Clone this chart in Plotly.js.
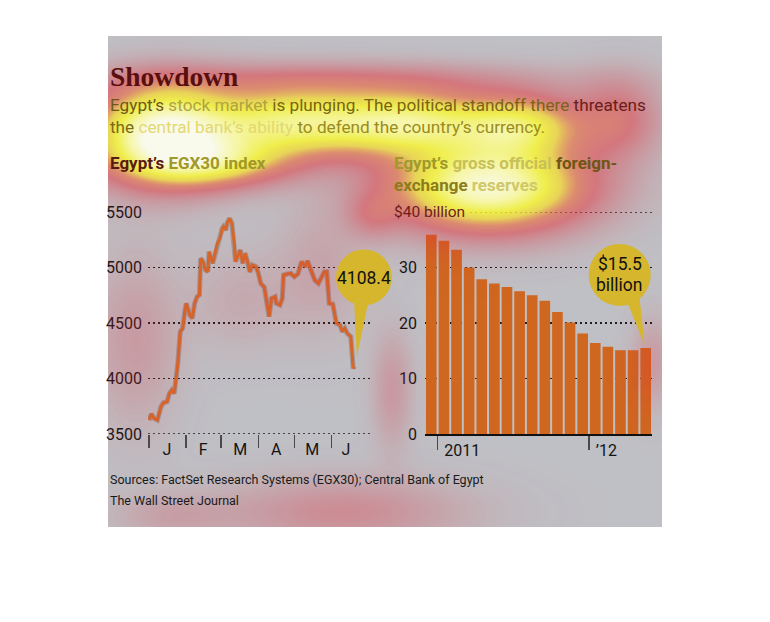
<!DOCTYPE html>
<html><head><meta charset="utf-8">
<script src="https://cdn.plot.ly/plotly-3.0.1.min.js"></script>
<style>html,body{margin:0;padding:0;background:#fff}#chart{width:770px;height:622px}</style>
</head><body><div id="chart"></div>
<script>
// ---------- data ----------
const egxDates = ['2012-01-01','2012-01-03','2012-01-05','2012-01-08','2012-01-11','2012-01-13','2012-01-16','2012-01-18','2012-01-20','2012-01-22','2012-01-24','2012-01-25','2012-01-27','2012-01-29','2012-01-31',
'2012-02-01','2012-02-04','2012-02-06','2012-02-08','2012-02-10','2012-02-12','2012-02-13','2012-02-15','2012-02-17','2012-02-19','2012-02-20','2012-02-23','2012-02-25','2012-02-27','2012-02-29',
'2012-03-02','2012-03-03','2012-03-05','2012-03-06','2012-03-08','2012-03-10','2012-03-12','2012-03-13','2012-03-15','2012-03-17','2012-03-19','2012-03-21','2012-03-23','2012-03-25','2012-03-27','2012-03-30',
'2012-04-01','2012-04-03','2012-04-06','2012-04-08','2012-04-10','2012-04-12','2012-04-15','2012-04-16','2012-04-19','2012-04-21','2012-04-22','2012-04-25','2012-04-28',
'2012-05-01','2012-05-04','2012-05-07','2012-05-10','2012-05-12','2012-05-15','2012-05-18','2012-05-21','2012-05-23','2012-05-26','2012-05-28','2012-05-30',
'2012-06-02','2012-06-05','2012-06-08','2012-06-10','2012-06-12','2012-06-14','2012-06-17','2012-06-19','2012-06-20'];
const egxValues = [3626,3680,3644,3626,3746,3782,3791,3866,3896,3866,4047,4137,4422,4452,4617,
4677,4572,4542,4677,4737,4752,5083,5053,4978,4962,5142,5038,5128,5218,5263,
5353,5368,5338,5398,5443,5398,5218,5053,5113,5158,5038,5128,5053,4960,5023,5008,
4950,4857,4822,4677,4557,4722,4737,4677,4662,4722,4932,4941,4947,
4917,4941,5053,5008,5059,4977,4887,4857,4903,4962,4962,4677,
4671,4497,4482,4422,4452,4407,4377,4092,4108.4];
const egxTickValues = [3500,4000,4500,5000,5500];
const monthStarts = ['2012-01-01','2012-02-01','2012-03-01','2012-04-01','2012-05-01','2012-06-01'];
const monthLabelDates = ['2012-01-16','2012-02-15','2012-03-17','2012-04-16','2012-05-16','2012-06-13'];
const monthTickLabels = ['J','F','M','A','M','J'];

const reserveMonths = ['2010-12','2011-01','2011-02','2011-03','2011-04','2011-05','2011-06','2011-07','2011-08','2011-09','2011-10','2011-11','2011-12','2012-01','2012-02','2012-03','2012-04','2012-05'];
const reserveValues = [35.9,34.8,33.2,30.0,27.9,27.1,26.5,25.7,25.0,24.0,22.0,20.1,18.1,16.4,15.7,15.1,15.1,15.5];
const reserveTickValues = [0,10,20,30];
const reserveYearStarts = ['2011-01','2012-01'];
const reserveYearLabels = ['2011','\u201912'];

// ---------- helpers ----------
const W = 770, H = 622;
const PX = v => v / W, PY = v => 1 - v / H;
const SANS = 'Roboto, "Liberation Sans", sans-serif';
const SERIF = '"Liberation Serif", "DejaVu Serif", serif';
const lastI = egxValues.length - 1;
const barIdx = reserveMonths.map((m, i) => i);
const lastB = reserveValues.length - 1;
const BUBBLE = '#d5b62c';
const GRIDC = '#1e1e1e';

// attention-heat overlay (decoration)
const heatSpots = [
  [162,134,48,32,1.15],[290,122,60,23,0.8],[410,122,55,22,0.78],[520,125,42,21,0.66],
  [488,186,66,30,1.08],[220,162,52,17,0.52],[330,80,150,13,0.22],[618,118,30,28,0.3],
  [135,340,30,60,0.14],[320,270,30,45,0.1],[240,300,35,35,0.08],[340,512,85,24,0.2],[170,515,40,15,0.1],
  [392,390,14,40,0.15],[652,362,15,30,0.14],[372,215,18,16,0.18]
];
const rampStops = [[0,230,40,50,0],[0.10,228,40,55,0.18],[0.30,232,45,55,0.5],[0.45,240,100,50,0.58],[0.60,250,220,40,0.7],[0.75,252,250,40,0.78],[0.95,255,255,160,0.85],[1.15,255,255,240,0.9]];
function ramp(I){
  if (I <= 0) return rampStops[0].slice(1);
  for (let i = 1; i < rampStops.length; i++) {
    const b = rampStops[i];
    if (I <= b[0]) { const a = rampStops[i-1]; const t = (I - a[0]) / (b[0] - a[0]);
      return [a[1]+(b[1]-a[1])*t, a[2]+(b[2]-a[2])*t, a[3]+(b[3]-a[3])*t, a[4]+(b[4]-a[4])*t]; }
  }
  return rampStops[rampStops.length-1].slice(1);
}
function buildOverlay(){
  const ox = 108, oy = 36, w = 554, h = 491;
  const cv = document.createElement('canvas'); cv.width = w; cv.height = h;
  const ctx = cv.getContext('2d'); const im = ctx.createImageData(w, h); const d = im.data;
  for (let y = 0; y < h; y++) for (let x = 0; x < w; x++) {
    const px = x + ox, py = y + oy; let I = 0;
    for (const s of heatSpots) { const dx = (px - s[0]) / s[2], dy = (py - s[1]) / s[3]; const e = (dx*dx + dy*dy) / 2; if (e < 12) I += s[4] * Math.exp(-e); }
    const c = ramp(I); const k = (y * w + x) * 4;
    d[k] = c[0]; d[k+1] = c[1]; d[k+2] = c[2]; d[k+3] = Math.round(c[3] * 255);
  }
  ctx.putImageData(im, 0, 0); return cv.toDataURL('image/png');
}

// ---------- traces ----------
const traces = [
  {type:'scatter', mode:'lines', x:egxDates, y:egxValues, xaxis:'x', yaxis:'y', cliponaxis:false,
   line:{color:'rgba(70,45,30,0.25)', width:5}, hoverinfo:'skip'},
  {type:'scatter', mode:'lines', x:egxDates, y:egxValues, xaxis:'x', yaxis:'y', cliponaxis:false,
   line:{color:'#d6692a', width:3}},
  {type:'bar', x:barIdx, y:reserveValues, xaxis:'x2', yaxis:'y2', width:0.845,
   marker:{color:'#cf6721', line:{width:0}}}
];

const tickFont = {family:SANS, size:16, color:'#141414'};
const gridStyle = {showgrid:true, gridcolor:GRIDC, gridwidth:1.5, griddash:'2px,3px'};

function ann(x, y, text, size, opts){
  return Object.assign({xref:'paper', yref:'paper', x:PX(x), y:PY(y), xanchor:'left', yanchor:'middle',
    showarrow:false, text:text, font:{family:SANS, size:size, color:'#1a1a1a'}}, opts || {});
}
const sp = (c, t) => '<span style="color:' + c + '">' + t + '</span>';
const boldFont = {family:SANS, size:17, weight:'bold'};

const layout = {
  width:W, height:H, margin:{l:0,r:0,t:0,b:0}, paper_bgcolor:'#ffffff', plot_bgcolor:'rgba(0,0,0,0)',
  showlegend:false,
  xaxis:{type:'date', domain:[PX(148), PX(370)], range:['2011-12-31 04:00','2012-07-03'],
    tickmode:'array', tickvals:monthLabelDates, ticktext:monthTickLabels, ticks:'', showgrid:false,
    zeroline:false, showline:false, tickfont:tickFont, ticklabelstandoff:4,
    minor:{tickmode:'array', tickvals:monthStarts, ticks:'outside', ticklen:13, tickwidth:1.5, tickcolor:'#4a4a4a', showgrid:false}},
  yaxis:Object.assign({domain:[PY(434), PY(212)], range:[3500,5500], tickmode:'array', tickvals:egxTickValues,
    ticks:'', zeroline:false, showline:false, tickfont:tickFont, ticklabelstandoff:5}, gridStyle),
  xaxis2:{anchor:'y2', domain:[PX(425), PX(652)], range:[-0.5, reserveValues.length - 0.5],
    tickmode:'array', tickvals:reserveYearStarts.map(m => reserveMonths.indexOf(m) - 0.5), ticktext:reserveYearLabels,
    ticks:'outside', ticklen:14, tickwidth:1.5, tickcolor:'#4a4a4a', ticklabelposition:'outside right', ticklabelshift:5,
    showline:true, linecolor:'#111', linewidth:2, showgrid:false, zeroline:false, tickfont:tickFont, ticklabelstandoff:1},
  yaxis2:Object.assign({anchor:'x2', domain:[PY(434), PY(212)], range:[0,40], tickmode:'array', tickvals:reserveTickValues,
    ticks:'', zeroline:false, showline:false, tickfont:tickFont, ticklabelstandoff:7}, gridStyle),
  shapes:[
    {type:'rect', xref:'paper', yref:'paper', x0:PX(108), x1:PX(662), y0:PY(527), y1:PY(36), fillcolor:'#bfc0c5', line:{width:0}, layer:'below'},
    {type:'line', xref:'x domain', yref:'y', x0:0, x1:1, y0:egxTickValues[0], y1:egxTickValues[0], line:{color:GRIDC, width:1.5, dash:'2px,3px'}, layer:'below'},
    {type:'line', xref:'x2 domain', yref:'y2', x0:(470-425)/227, x1:1, y0:40, y1:40, line:{color:GRIDC, width:1.5, dash:'2px,3px'}, layer:'below'}
  ],
  annotations:[
    ann(108, 76, 'Showdown', 27, {font:{family:SERIF, size:27.5, color:'#5a0f0f', weight:'bold'}}),
    ann(108, 105, sp('#6e5a14','Egypt\u2019s') + sp('#b0a440',' stock market') + sp('#7a6414',' is plunging. The political standoff there') + sp('#6a1e18',' threatens'), 17.2),
    ann(108, 127, sp('#7a6a14','the') + sp('#e2d970',' central bank\u2019s ability') + sp('#9a8c1c',' to defend the country\u2019s currency.'), 17.2),
    ann(108, 163, sp('#5a1a10','Egypt\u2019s') + sp('#a09828',' EGX30 index'), 17, {font:boldFont}),
    ann(392, 163, sp('#a09a2a','Egypt\u2019s') + sp('#c8c058',' gross official') + sp('#6e5614',' foreign-'), 17, {font:boldFont}),
    ann(392, 185, sp('#8c7c1c','exchange') + sp('#d0c868',' reserves'), 17, {font:boldFont}),
    ann(392, 212, '$40 billion', 15.5, {font:{family:SANS, size:15.5, color:'#6e1c1c'}}),
    ann(108, 480, 'Sources: FactSet Research Systems (EGX30); Central Bank of Egypt', 12.5),
    ann(108, 501, 'The Wall Street Journal', 12.5),
    {xref:'x', yref:'y', x:egxDates[lastI], y:egxValues[lastI], xshift:9.5, yshift:88.5, showarrow:false,
     text:String(egxValues[lastI]), font:{family:SANS, size:17.5, color:'#111'}},
    {xref:'x2', yref:'y2', x:barIdx[lastB], y:reserveValues[lastB], xshift:-26, yshift:84, showarrow:false,
     text:'$' + reserveValues[lastB], font:{family:SANS, size:17.5, color:'#111'}},
    {xref:'x2', yref:'y2', x:barIdx[lastB], y:reserveValues[lastB], xshift:-26, yshift:63, showarrow:false,
     text:'billion', font:{family:SANS, size:17.5, color:'#111'}}
  ],
  images:[{source:buildOverlay(), xref:'paper', yref:'paper', x:PX(108), y:PY(36), sizex:554/W, sizey:491/H,
    xanchor:'left', yanchor:'top', sizing:'stretch', layer:'above'}]
};

// callout bubbles: anchored (via the library's own axis scales) at the last data point of each series
function bubbleShapes(ax, ay, xv, yv, circle, tail){
  const px = ax._offset + ax.l2p(ax.d2l(xv)), py = ay._offset + ay.l2p(ay.d2l(yv));
  const base = {xref:'paper', yref:'paper', xsizemode:'pixel', ysizemode:'pixel', xanchor:px / W, yanchor:1 - py / H,
    fillcolor:BUBBLE, line:{width:0}, layer:'above'};
  return [Object.assign({type:'circle', x0:circle[0], x1:circle[1], y0:circle[2], y1:circle[3]}, base),
          Object.assign({type:'path', path:tail}, base)];
}

const gd = document.getElementById('chart');
Plotly.newPlot(gd, traces, layout, {displayModeBar:false, staticPlot:true}).then(() => {
  const fl = gd._fullLayout;
  const extra = [].concat(
    bubbleShapes(fl.xaxis, fl.yaxis, egxDates[lastI], egxValues[lastI], [-18.5, 37.5, 61, 117], 'M -0.5,70 L 2.5,10 L 15,70 Z'),
    bubbleShapes(fl.xaxis2, fl.yaxis2, barIdx[lastB], reserveValues[lastB], [-57, 5, 42, 104], 'M -21,52 L -1,3 L -7,58 Z')
  );
  return Plotly.relayout(gd, {shapes: layout.shapes.concat(extra)});
});
</script></body></html>
